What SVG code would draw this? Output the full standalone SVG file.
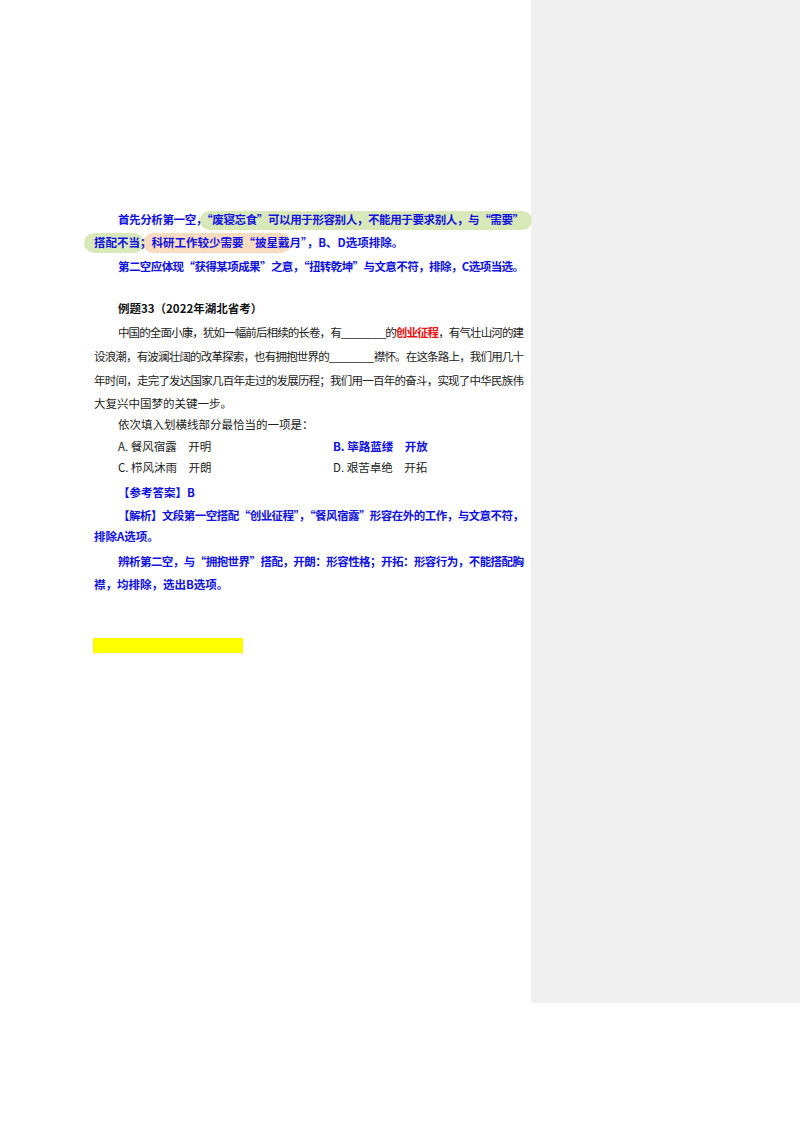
<svg xmlns="http://www.w3.org/2000/svg" width="800" height="1132" viewBox="0 0 800 1132">
<style>
text{font-family:"Noto Sans CJK SC","Liberation Serif",serif;font-size:11.5px;fill:#222}
.b{fill:#1010e0;font-weight:bold}
.k{font-weight:bold;fill:#111}
.r{fill:#ee1111;font-weight:bold}
</style>
<rect width="800" height="1132" fill="#fff"/>
<rect x="531" y="0" width="269" height="1003" fill="#f0f0f0"/>
<rect x="200" y="211" width="332" height="19" rx="9.5" fill="#d8e8b8"/>
<rect x="84" y="233" width="60" height="20" rx="10" fill="#d8e8b8"/>
<rect x="143" y="233" width="148" height="20" rx="10" fill="#f8dcc0"/>
<text class="b" x="118" y="224" textLength="406">首先分析第一空，“废寝忘食”可以用于形容别人，不能用于要求别人，与“需要”</text>
<text class="b" x="94" y="247">搭配不当；科研工作较少需要“披星戴月”，B、D选项排除。</text>
<text class="b" x="118" y="271" textLength="406">第二空应体现“获得某项成果”之意，“扭转乾坤”与文意不符，排除，C选项当选。</text>
<text class="k" x="118" y="313">例题33（2022年湖北省考）</text>
<text x="118" y="337" textLength="406">中国的全面小康，犹如一幅前后相续的长卷，有________的<tspan class="r">创业征程</tspan>，有气壮山河的建</text>
<text x="94" y="361" textLength="430">设浪潮，有波澜壮阔的改革探索，也有拥抱世界的________襟怀。在这条路上，我们用几十</text>
<text x="94" y="385" textLength="430">年时间，走完了发达国家几百年走过的发展历程；我们用一百年的奋斗，实现了中华民族伟</text>
<text x="94" y="408">大复兴中国梦的关键一步。</text>
<text x="118" y="429">依次填入划横线部分最恰当的一项是：</text>
<text x="118" y="451">A. 餐风宿露　开明</text>
<text class="b" x="333" y="451">B. 筚路蓝缕　开放</text>
<text x="118" y="472">C. 栉风沐雨　开朗</text>
<text x="333" y="472">D. 艰苦卓绝　开拓</text>
<text class="b" x="118" y="497">【参考答案】B</text>
<text class="b" x="118" y="520" textLength="406">【解析】文段第一空搭配“创业征程”，“餐风宿露”形容在外的工作，与文意不符，</text>
<text class="b" x="94" y="541">排除A选项。</text>
<text class="b" x="118" y="566" textLength="406">辨析第二空，与“拥抱世界”搭配，开朗：形容性格；开拓：形容行为，不能搭配胸</text>
<text class="b" x="94" y="589">襟，均排除，选出B选项。</text>
<rect x="93" y="638" width="150" height="15" fill="#ffff00"/>
</svg>
